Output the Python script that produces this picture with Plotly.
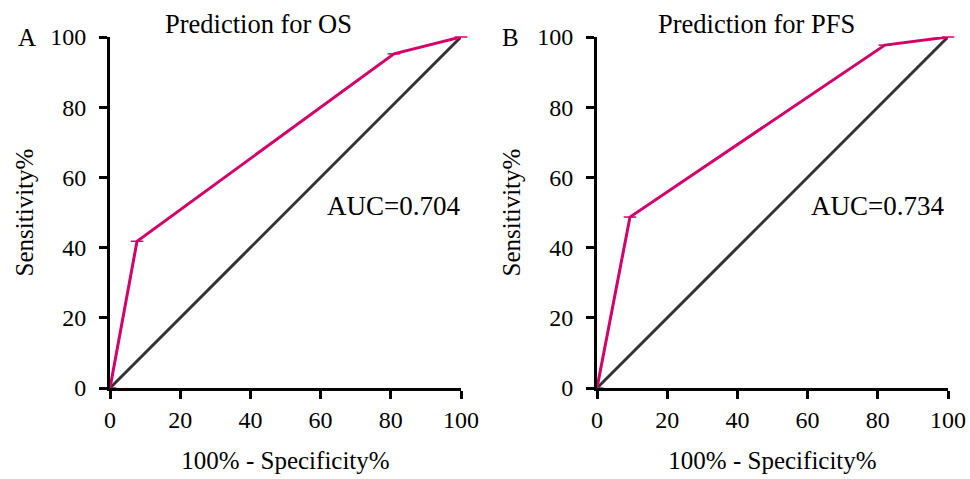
import plotly.graph_objects as go

os_fpr = [0, 7.7, 80.9, 100]
os_tpr = [0, 41.8, 95.2, 100]
pfs_fpr = [0, 9.4, 82.0, 100]
pfs_tpr = [0, 48.7, 97.7, 100]
ref_line = [0, 100]
ticks = [0, 20, 40, 60, 80, 100]
titles = ["Prediction for OS", "Prediction for PFS"]
aucs = ["AUC=0.704", "AUC=0.734"]
panel_letters = ["A", "B"]
x_title = "100% - Specificity%"
y_title = "Sensitivity%"

OFF = 0  # page body margin removed via post_script
W, H = 970, 479
ROC_COLOR = "#D4006A"
DIAG_COLOR = "#333333"
FONT = "Liberation Serif"

def px_x(p):
    return (p - OFF) / W

def px_y(p):
    return 1 - (p - OFF) / H

fig = go.Figure()

panels = [(os_fpr, os_tpr, "x", "y"), (pfs_fpr, pfs_tpr, "x2", "y2")]
for fx, ty, xa, ya in panels:
    fig.add_trace(go.Scatter(x=ref_line, y=ref_line, mode="lines", xaxis=xa, yaxis=ya,
                             line=dict(color=DIAG_COLOR, width=3), cliponaxis=False,
                             showlegend=False, hoverinfo="skip"))
    fig.add_trace(go.Scatter(x=fx, y=ty, mode="lines+markers", xaxis=xa, yaxis=ya,
                             line=dict(color=ROC_COLOR, width=3),
                             marker=dict(symbol="line-ew", size=9, line=dict(color=ROC_COLOR, width=1.5)),
                             cliponaxis=False, showlegend=False))

xd1 = [px_x(110), px_x(461)]
xd2 = [px_x(597), px_x(948)]
yd = [px_y(388), px_y(37)]

axis_common = dict(range=[0, 100], tickvals=ticks, ticktext=[str(t) for t in ticks],
                   showline=True, linecolor="black", linewidth=3, ticks="outside",
                   ticklen=8, tickwidth=3, tickcolor="black", showgrid=False, zeroline=False,
                   tickfont=dict(family=FONT, size=24, color="black"), fixedrange=True,
                   automargin=False)

xt = dict(text=x_title, font=dict(family=FONT, size=25, color="black"), standoff=20)
yt = dict(text=y_title, font=dict(family=FONT, size=25, color="black"), standoff=10)

fig.update_layout(
    width=W, height=H, margin=dict(l=0, r=0, t=0, b=0),
    paper_bgcolor="white", plot_bgcolor="white",
    font=dict(family=FONT, color="black"),
    xaxis=dict(domain=xd1, anchor="y", title=xt, **axis_common),
    yaxis=dict(domain=yd, anchor="x", title=yt, ticklabelstandoff=8, **axis_common),
    xaxis2=dict(domain=xd2, anchor="y2", title=xt, **axis_common),
    yaxis2=dict(domain=yd, anchor="x2", title=yt, ticklabelstandoff=8, **axis_common),
)

ann = []
title_x = [258, 756]
auc_x = [393, 877]
letter_x = [27, 510]
for i in range(2):
    ann.append(dict(text=titles[i], x=px_x(title_x[i]), y=px_y(24), xref="paper", yref="paper",
                    showarrow=False, font=dict(family=FONT, size=26.5, color="black"),
                    xanchor="center", yanchor="middle"))
    ann.append(dict(text=aucs[i], x=px_x(auc_x[i]), y=px_y(206), xref="paper", yref="paper",
                    showarrow=False, font=dict(family=FONT, size=27, color="black"),
                    xanchor="center", yanchor="middle"))
    ann.append(dict(text=panel_letters[i], x=px_x(letter_x[i]), y=px_y(37), xref="paper", yref="paper",
                    showarrow=False, font=dict(family=FONT, size=25, color="black"),
                    xanchor="center", yanchor="middle"))
fig.update_layout(annotations=ann)

fig.write_html("out.html", config={"displayModeBar": False},
               post_script="document.body.style.margin='0';document.body.style.overflow='hidden';")
